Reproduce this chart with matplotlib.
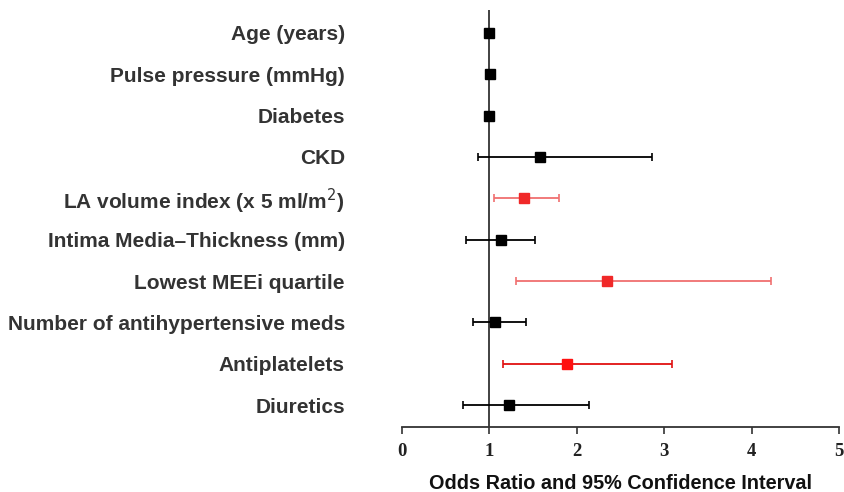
import matplotlib
matplotlib.use("Agg")
import matplotlib.pyplot as plt

labels = ["Age (years)", "Pulse pressure (mmHg)", "Diabetes", "CKD",
          r"LA volume index (x 5 ml/m$^2$)", "Intima Media\u2013Thickness (mm)",
          "Lowest MEEi quartile", "Number of antihypertensive meds",
          "Antiplatelets", "Diuretics"]
odds = [1.00, 1.01, 1.00, 1.58, 1.40, 1.13, 2.35, 1.07, 1.89, 1.22]
ci_low = [0.99, 1.00, 0.99, 0.87, 1.05, 0.74, 1.31, 0.81, 1.16, 0.70]
ci_high = [1.01, 1.02, 1.01, 2.86, 1.80, 1.52, 4.22, 1.42, 3.09, 2.14]
line_colors = ["black", "black", "black", "black", "#f07070", "black",
               "#f07070", "black", "#e01010", "black"]
marker_colors = ["black", "black", "black", "black", "#f02828", "black",
                 "#f02828", "black", "#ff1010", "black"]
xticks = [0, 1, 2, 3, 4, 5]

plt.rcParams['font.family'] = ['Liberation Sans', 'DejaVu Sans']
fig = plt.figure(figsize=(8.44, 4.92), dpi=100)
ax = fig.add_axes([0.476, 0.1327, 0.5184, 0.847])

for i in range(len(labels)):
    ax.errorbar(odds[i], i, xerr=[[odds[i] - ci_low[i]], [ci_high[i] - odds[i]]],
                fmt='s', color=line_colors[i], mfc=marker_colors[i], mec=marker_colors[i],
                ms=6.5, elinewidth=1.3, capsize=3, capthick=1.2, zorder=3)

ax.axvline(1, color='#333333', lw=1.3, zorder=1)
ax.set_xlim(0, 5)
ax.set_ylim(9.52, -0.55)
ax.set_yticks(range(len(labels)))
ax.set_yticklabels(labels, fontsize=15, fontweight='bold', color='#333333')
ax.tick_params(axis='y', length=0, pad=41)
ax.set_xticks(xticks)
ax.set_xticklabels([str(t) for t in xticks], family='Liberation Serif',
                   fontweight='bold', fontsize=13.5, color='#222222')
ax.tick_params(axis='x', direction='out', length=5, width=1.2, color='#333333', pad=7)
for s in ['top', 'right', 'left']:
    ax.spines[s].set_visible(False)
ax.spines['bottom'].set_color('#333333')
ax.spines['bottom'].set_linewidth(1.3)
ax.set_xlabel("Odds Ratio and 95% Confidence Interval", fontsize=14.3,
              fontweight='bold', color='#111111', labelpad=10)

fig.savefig("out.png", dpi=100)
